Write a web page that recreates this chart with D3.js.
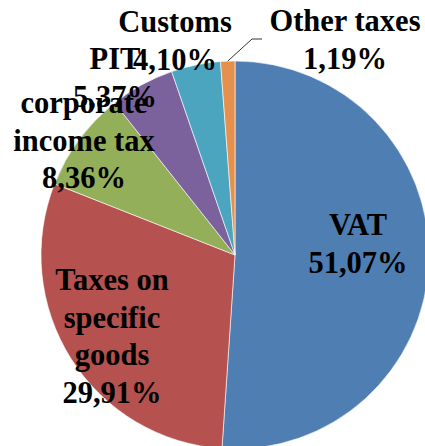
<!DOCTYPE html>
<html>
<head>
<meta charset="utf-8">
<script src="https://cdn.jsdelivr.net/npm/d3@7"></script>
<style>
  body { margin: 0; background: #fff; }
  text { font-family: 'Liberation Serif', 'Times New Roman', serif; font-weight: bold; }
</style>
</head>
<body>
<div id="chart"></div>
<script>
// data
var categories = ['VAT', 'Taxes on specific goods', 'corporate income tax', 'PIT', 'Customs', 'Other taxes']
var shares = [51.07, 29.91, 8.36, 5.37, 4.10, 1.19]
var labelLines = [
  ['VAT'],
  ['Taxes on', 'specific', 'goods'],
  ['corporate', 'income tax'],
  ['PIT'],
  ['Customs'],
  ['Other taxes']
]

var colors = ['#4f7eb2', '#b5514e', '#94af5a', '#7c629c', '#4ba5bf', '#e5904d']

// label anchor offsets from pie centre (first baseline)
var labelOffsets = [[123, -20], [-123, 35], [-151, -142], [-120, -186], [-60, -223], [110, -224]]

var width = 425
var height = 446
var cx = 235
var cy = 255
var radius = 194
var lineH = 37.5

var svg = d3
  .select('#chart')
  .append('svg')
  .attr('width', width)
  .attr('height', height)

var g = svg.append('g').attr('transform', 'translate(' + cx + ',' + cy + ')')

var pie = d3.pie().sort(null).value(d => d)
var arcs = pie(shares)

var arc = d3.arc().innerRadius(0).outerRadius(radius)

g.selectAll('.slice')
  .data(arcs)
  .enter()
  .append('path')
  .attr('class', 'slice')
  .attr('d', arc)
  .attr('fill', (d, i) => colors[i])
  .attr('stroke', '#fff')
  .attr('stroke-width', 0.6)

// leader line for the tiny slice
var last = arcs[arcs.length - 1]
var mid = (last.startAngle + last.endAngle) / 2
var p0 = [radius * Math.sin(mid), -radius * Math.cos(mid)]
g.append('polyline')
  .attr('points', [p0, [17, -216], [27, -216]].map(p => p.join(',')).join(' '))
  .attr('fill', 'none')
  .attr('stroke', '#333')
  .attr('stroke-width', 1)

var fmt = v => v.toFixed(2).replace('.', ',') + '%'

arcs.forEach((d, i) => {
  var lines = labelLines[i].concat([fmt(shares[i])])
  var t = g.append('text')
    .attr('text-anchor', 'middle')
    .attr('font-size', 30.5)
    .attr('fill', '#000')
  lines.forEach((l, j) => {
    t.append('tspan')
      .attr('x', labelOffsets[i][0])
      .attr('y', labelOffsets[i][1] + j * lineH)
      .text(l)
  })
})
</script>
</body>
</html>
